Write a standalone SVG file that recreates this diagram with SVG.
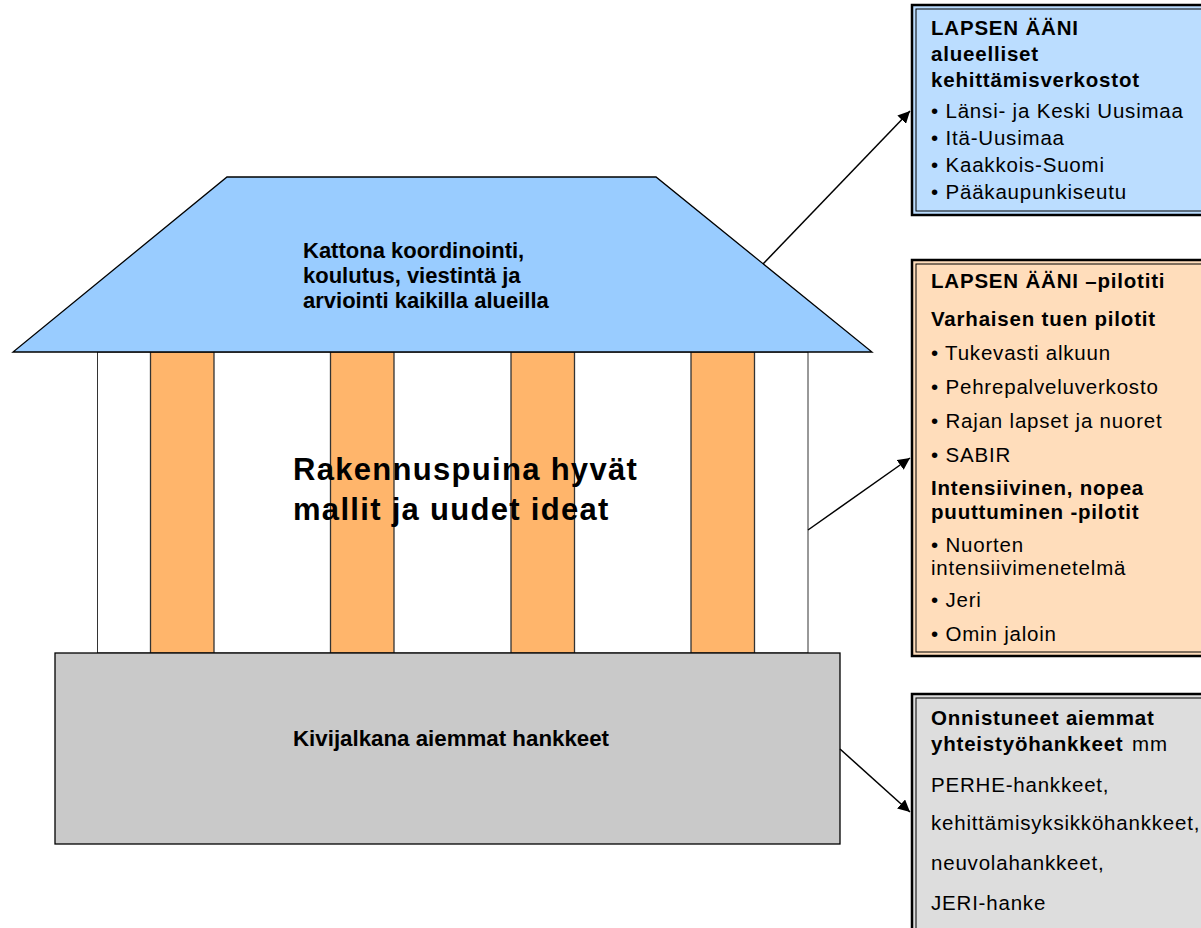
<svg xmlns="http://www.w3.org/2000/svg" width="1201" height="928" viewBox="0 0 1201 928">
<style>
.t{font-family:"Liberation Sans",Arial,sans-serif;fill:#000}
.b{font-weight:bold}
.bx{font-size:20.5px;letter-spacing:0.8px}
.rf{font-size:22px;font-weight:bold}
.bs{font-size:22.3px;font-weight:bold}
.big{font-size:31px;font-weight:bold;letter-spacing:1.3px}
.edge{stroke:#000;stroke-width:1.5;fill:none}
.pil{fill:#FFB56B;stroke:#333;stroke-width:1.3}
</style>
<defs>
<marker id="arr" viewBox="0 0 10 10" refX="10" refY="5" markerWidth="12" markerHeight="12" markerUnits="userSpaceOnUse" orient="auto">
<path d="M0,0 L10,5 L0,10 z" fill="#000"/>
</marker>
</defs>
<rect width="1201" height="928" fill="#fff"/>
<g id="building">
<rect x="97.5" y="352" width="710.5" height="301" fill="#fff" stroke="#333" stroke-width="1"/>
<rect class="pil" x="150.5" y="352" width="63.5" height="301"/>
<rect class="pil" x="330.5" y="352" width="63.5" height="301"/>
<rect class="pil" x="511" y="352" width="63.5" height="301"/>
<rect class="pil" x="691" y="352" width="63.5" height="301"/>
</g>
<g id="roof">
<polygon points="227,177 656,177 872,352 13,352" fill="#99CCFF" stroke="#000" stroke-width="1.3"/>
<text class="t rf" x="303" y="258">Kattona koordinointi,</text>
<text class="t rf" x="303" y="283">koulutus, viestintä ja</text>
<text class="t rf" x="303" y="308">arviointi kaikilla alueilla</text>
</g>
<g id="center-text">
<text class="t big" x="293" y="480">Rakennuspuina hyvät</text>
<text class="t big" x="293" y="520">mallit ja uudet ideat</text>
</g>
<g id="base">
<rect x="55" y="653" width="785" height="191" fill="#C9C9C9" stroke="#000" stroke-width="1.3"/>
<text class="t bs" x="293" y="746">Kivijalkana aiemmat hankkeet</text>
</g>
<g id="box-networks">
<rect x="912" y="5" width="300" height="210" fill="#BBDDFF" stroke="#000" stroke-width="2.5"/>
<rect x="916" y="9" width="300" height="202" fill="none" stroke="#000" stroke-width="1"/>
<text class="t b bx" x="931" y="35">LAPSEN ÄÄNI</text>
<text class="t b bx" x="931" y="61">alueelliset</text>
<text class="t b bx" x="931" y="87">kehittämisverkostot</text>
<text class="t bx" x="931" y="118">• Länsi- ja Keski Uusimaa</text>
<text class="t bx" x="931" y="145">• Itä-Uusimaa</text>
<text class="t bx" x="931" y="172">• Kaakkois-Suomi</text>
<text class="t bx" x="931" y="199">• Pääkaupunkiseutu</text>
</g>
<g id="box-pilots">
<rect x="912" y="260" width="300" height="396" fill="#FFDDBB" stroke="#000" stroke-width="2.5"/>
<rect x="916" y="264" width="300" height="388" fill="none" stroke="#000" stroke-width="1"/>
<text class="t b bx" x="931" y="288">LAPSEN ÄÄNI –pilotiti</text>
<text class="t b bx" x="931" y="326">Varhaisen tuen pilotit</text>
<text class="t bx" x="931" y="360">• Tukevasti alkuun</text>
<text class="t bx" x="931" y="394">• Pehrepalveluverkosto</text>
<text class="t bx" x="931" y="428">• Rajan lapset ja nuoret</text>
<text class="t bx" x="931" y="462">• SABIR</text>
<text class="t b bx" x="931" y="495">Intensiivinen, nopea</text>
<text class="t b bx" x="931" y="519">puuttuminen -pilotit</text>
<text class="t bx" x="931" y="552">• Nuorten</text>
<text class="t bx" x="931" y="575">intensiivimenetelmä</text>
<text class="t bx" x="931" y="607">• Jeri</text>
<text class="t bx" x="931" y="641">• Omin jaloin</text>
</g>
<g id="box-previous">
<rect x="912" y="694" width="300" height="260" fill="#DDDDDD" stroke="#000" stroke-width="2.5"/>
<rect x="916" y="698" width="300" height="260" fill="none" stroke="#000" stroke-width="1"/>
<text class="t b bx" x="931" y="725">Onnistuneet aiemmat</text>
<text class="t bx" x="931" y="751"><tspan class="b">yhteistyöhankkeet</tspan><tspan x="1132">mm</tspan></text>
<text class="t bx" x="931" y="792">PERHE-hankkeet,</text>
<text class="t bx" x="931" y="830">kehittämisyksikköhankkeet,</text>
<text class="t bx" x="931" y="870">neuvolahankkeet,</text>
<text class="t bx" x="931" y="910">JERI-hanke</text>
</g>
<g id="connectors">
<line class="edge" x1="763" y1="264" x2="910" y2="111" marker-end="url(#arr)"/>
<line class="edge" x1="808" y1="530" x2="910" y2="458" marker-end="url(#arr)"/>
<line class="edge" x1="840" y1="749" x2="910" y2="812" marker-end="url(#arr)"/>
</g>
</svg>
